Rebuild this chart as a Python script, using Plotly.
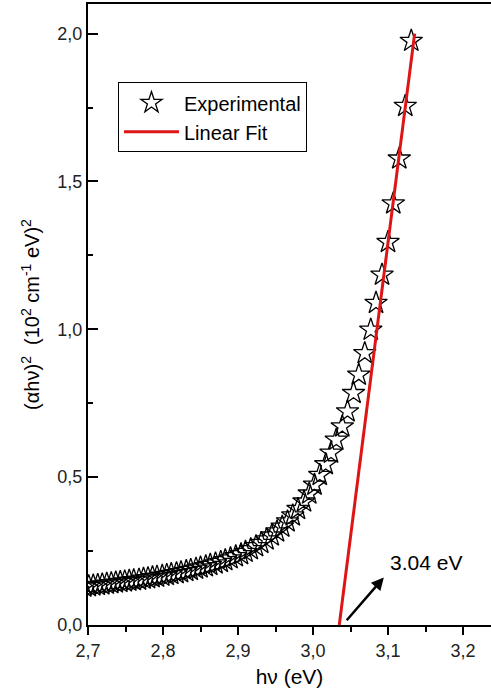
import plotly.graph_objects as go

# Photon energy hν (eV) of the measured points
hv = [3.131, 3.123, 3.115, 3.107, 3.100, 3.092, 3.084, 3.077, 3.069, 3.061,
      3.054, 3.046, 3.039, 3.031, 3.024, 3.017, 3.009, 3.002, 2.995, 2.988,
      2.980, 2.973, 2.966, 2.959, 2.952, 2.945, 2.938, 2.931, 2.924, 2.917,
      2.910, 2.904, 2.897, 2.890, 2.883, 2.877, 2.870, 2.863, 2.857, 2.850,
      2.844, 2.837, 2.831, 2.824, 2.818, 2.811, 2.805, 2.799, 2.792, 2.786,
      2.780, 2.774, 2.768, 2.761, 2.755, 2.749, 2.743, 2.737, 2.731, 2.725,
      2.719, 2.713, 2.707, 2.701, 2.695]

# (αhν)² in units of (10² cm⁻¹ eV)²
ahv2 = [1.975, 1.755, 1.577, 1.425, 1.295, 1.184, 1.089, 0.998, 0.919, 0.846,
        0.784, 0.722, 0.671, 0.626, 0.582, 0.543, 0.507, 0.474, 0.444, 0.417,
        0.392, 0.370, 0.350, 0.332, 0.316, 0.302, 0.289, 0.277, 0.266, 0.256,
        0.247, 0.239, 0.232, 0.225, 0.219, 0.213, 0.208, 0.203, 0.198, 0.194,
        0.190, 0.186, 0.182, 0.178, 0.175, 0.172, 0.169, 0.166, 0.163, 0.161,
        0.158, 0.156, 0.153, 0.151, 0.149, 0.147, 0.145, 0.143, 0.141, 0.139,
        0.137, 0.135, 0.133, 0.131, 0.129]

# Linear fit of the absorption edge: x-intercept (band gap) and slope
fit_gap = 3.035
fit_slope = 19.9
fit_x = [fit_gap, 3.1355]
fit_y = [fit_slope * (x - fit_gap) for x in fit_x]

# Axis ticks (comma decimal separator)
x_tickvals = [2.7, 2.8, 2.9, 3.0, 3.1, 3.2]
x_ticktext = ["2,7", "2,8", "2,9", "3,0", "3,1", "3,2"]
y_tickvals = [0.0, 0.5, 1.0, 1.5, 2.0]
y_ticktext = ["0,0", "0,5", "1,0", "1,5", "2,0"]

FONT = "Liberation Sans, Arial, sans-serif"

fig = go.Figure()
fig.add_trace(go.Scatter(
    x=hv, y=ahv2, mode="markers", name="Experimental",
    marker=dict(symbol="star-open", size=17, color="black",
                line=dict(color="black", width=1.3)),
))
fig.add_trace(go.Scatter(
    x=fit_x, y=fit_y, mode="lines", name="Linear Fit",
    line=dict(color="#dd1515", width=3),
))

# Band-gap arrow and label
fig.add_annotation(x=3.0944, y=0.161, ax=3.0432, ay=0.011,
                   xref="x", yref="y", axref="x", ayref="y",
                   text="", showarrow=True, arrowhead=2, arrowsize=1,
                   arrowwidth=2.5, arrowcolor="black")
fig.add_annotation(x=3.1004, y=0.21, xref="x", yref="y", text="3.04 eV",
                   showarrow=False, xanchor="left", yanchor="middle",
                   font=dict(family=FONT, size=21, color="black"))

fig.update_layout(
    width=491, height=697,
    margin=dict(l=88, r=0, t=4, b=72),
    plot_bgcolor="white", paper_bgcolor="white",
    font=dict(family=FONT, color="black"),
    showlegend=True,
    legend=dict(x=0.0744, y=0.874, xanchor="left", yanchor="top",
                bordercolor="black", borderwidth=1, bgcolor="white",
                font=dict(family=FONT, size=20, color="black"),
                itemwidth=55, tracegroupgap=0),
    xaxis=dict(
        range=[2.7, 3.2373], tickvals=x_tickvals, ticktext=x_ticktext,
        ticks="outside", ticklen=8, tickwidth=1.5, tickcolor="black",
        minor=dict(dtick=0.05, ticks="outside", ticklen=5, tickwidth=1.5,
                   tickcolor="black"),
        showline=True, linecolor="black", linewidth=2, mirror=True,
        showgrid=False, zeroline=False,
        tickfont=dict(family=FONT, size=18, color="#222"),
        title=dict(text="hν (eV)", standoff=10,
                   font=dict(family=FONT, size=21, color="black")),
    ),
    yaxis=dict(
        range=[0, 2.1], tickvals=y_tickvals, ticktext=y_ticktext,
        ticks="inside", ticklen=10, tickwidth=1.5, tickcolor="black",
        minor=dict(dtick=0.25, ticks="inside", ticklen=5, tickwidth=1.5,
                   tickcolor="black"),
        showline=True, linecolor="black", linewidth=2, mirror=False,
        showgrid=False, zeroline=False,
        tickfont=dict(family=FONT, size=18, color="#222"),
        title=dict(text="(αhν)<sup>2</sup>  (10<sup>2</sup> cm<sup>-1</sup> eV)<sup>2</sup>",
                   standoff=12,
                   font=dict(family=FONT, size=20, color="black")),
    ),
)

fig.write_html("out.html")
